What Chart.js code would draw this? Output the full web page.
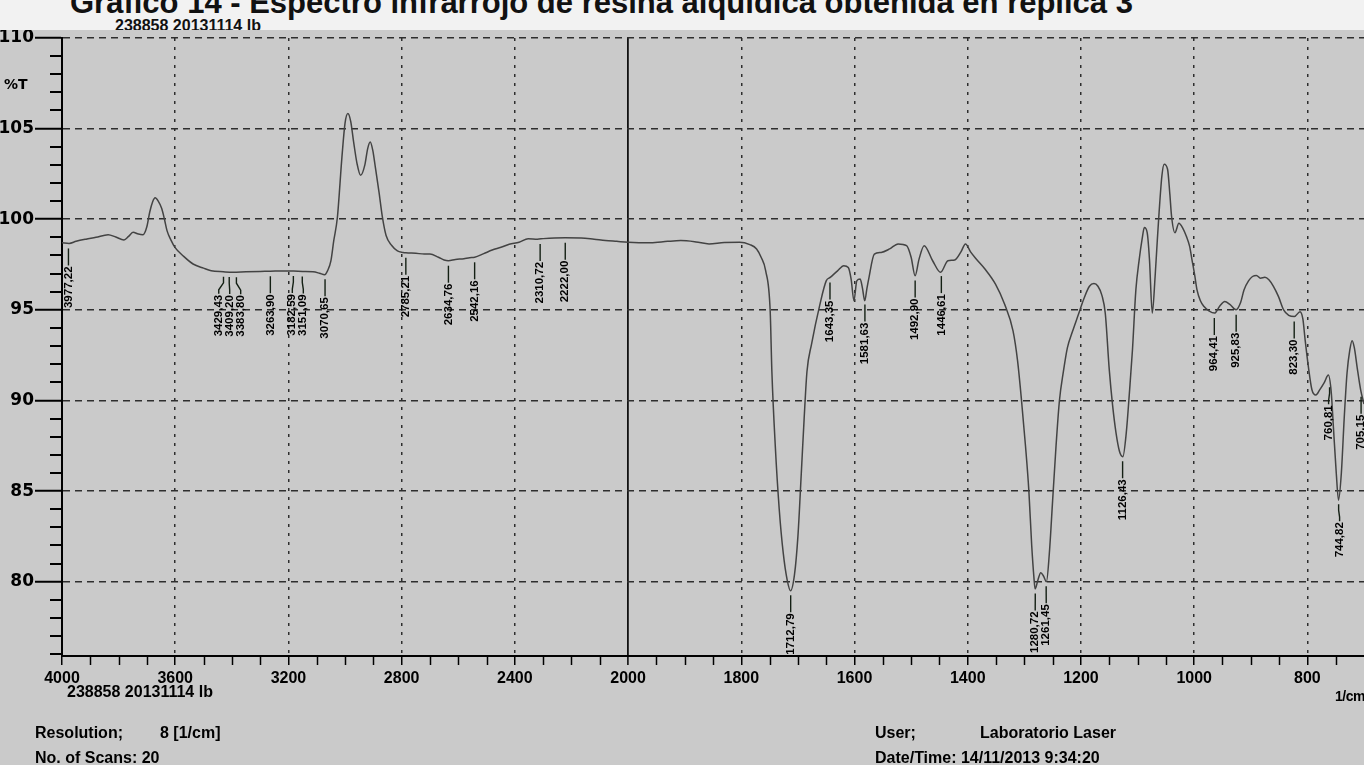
<!DOCTYPE html>
<html>
<head>
<meta charset="utf-8">
<title>Espectro infrarrojo de resina alquídica</title>
<script src="https://cdn.jsdelivr.net/npm/chart.js@4.4.0/dist/chart.umd.min.js"></script>
<style>
  html, body { margin: 0; padding: 0; background: #cacaca; }
  #wrap { position: relative; width: 1364px; height: 765px; overflow: hidden; background: #cacaca; }
  #spectrum { position: absolute; left: 0; top: 0; }
  #band { position: absolute; left: 0; top: 0; width: 1364px; height: 30px; background: #f2f2f2; overflow: hidden; z-index: 2; }
  #title { position: absolute; left: 70px; top: -15px; font: bold 31px "Liberation Sans", Arial, sans-serif; color: #111; white-space: nowrap; }
  #sampleTop { position: absolute; left: 115px; top: 17px; font: bold 16px "Liberation Sans", sans-serif; color: #111; white-space: nowrap; }
  .t { position: absolute; font: bold 16px "Liberation Sans", sans-serif; color: #000; white-space: nowrap; z-index: 3; }
  .w { font-family: "DejaVu Sans", sans-serif; font-size: 14px; }
  .u { font-size: 14px; letter-spacing: -0.5px; }
</style>
</head>
<body>
<div id="wrap">
  <canvas id="spectrum" width="1364" height="765"></canvas>
  <div id="band">
    <div id="title">Gráfico 14 - Espectro infrarrojo de resina alquídica obtenida en réplica 3</div>
    <div id="sampleTop">238858 20131114 lb</div>
  </div>
  <div class="t w" style="left:4px;top:76px;">%T</div>
  <div class="t" style="left:67px;top:683px;">238858 20131114 lb</div>
  <div class="t u" style="left:1335px;top:688px;">1/cm</div>
  <div class="t" style="left:35px;top:724px;">Resolution;</div>
  <div class="t" style="left:160px;top:724px;">8 [1/cm]</div>
  <div class="t" style="left:35px;top:749px;">No. of Scans: 20</div>
  <div class="t" style="left:875px;top:724px;">User;</div>
  <div class="t" style="left:980px;top:724px;">Laboratorio Laser</div>
  <div class="t" style="left:875px;top:749px;">Date/Time: 14/11/2013 9:34:20</div>
</div>
<script>
// Wavenumber (1/cm) and transmittance (%T) of the recorded spectrum
const wavenumbers = [
  4000, 3975, 3950, 3915, 3880, 3837, 3810, 3781, 3765, 3749, 3730, 3714, 3700, 3690, 3680, 3671, 3660, 3648, 3638, 3629,
  3615, 3601, 3570, 3537, 3500, 3473, 3430, 3396, 3350, 3300, 3264, 3220, 3182, 3150, 3113, 3090, 3072, 3062, 3050, 3040,
  3027, 3011, 3000, 2990, 2980, 2970, 2958, 2945, 2930, 2920, 2911, 2902, 2893, 2880, 2868, 2855, 2835, 2815, 2795, 2785,
  2750, 2720, 2700, 2670, 2650, 2635, 2610, 2580, 2560, 2542, 2510, 2480, 2449, 2420, 2385, 2353, 2320, 2300, 2260, 2222,
  2166, 2120, 2080, 2040, 2000, 1960, 1930, 1907, 1880, 1857, 1830, 1803, 1785, 1773, 1765, 1757, 1749, 1746, 1740, 1733,
  1726, 1719, 1713, 1706, 1700, 1694, 1689, 1684, 1676, 1661, 1650, 1643, 1630, 1619, 1611, 1606, 1601, 1596, 1590, 1586,
  1582, 1578, 1575, 1565, 1553, 1538, 1523, 1508, 1500, 1493, 1486, 1477, 1462, 1448, 1435, 1423, 1412, 1404, 1395, 1385,
  1370, 1351, 1335, 1320, 1312, 1305, 1298, 1292, 1287, 1283, 1281, 1276, 1271, 1266, 1261, 1256, 1250, 1244, 1238, 1231,
  1224, 1215, 1205, 1195, 1185, 1177, 1170, 1163, 1157, 1150, 1144, 1138, 1132, 1126, 1120, 1114, 1109, 1103, 1097, 1092,
  1088, 1083, 1079, 1074, 1069, 1065, 1062, 1057, 1053, 1047, 1043, 1040, 1034, 1027, 1020, 1014, 1008, 1004, 999, 995,
  989, 983, 974, 964, 955, 946, 937, 926, 918, 912, 904, 897, 890, 883, 875, 868, 860, 851, 842, 833,
  823, 813, 808, 804, 798, 792, 785, 778, 770, 763, 758, 754, 749, 745, 740, 735, 730, 725, 721, 717,
  712, 706, 700
];
const transmittance = [
  98.70, 98.66, 98.78, 98.90, 99.00, 99.15, 99.02, 98.86, 99.05, 99.28, 99.18, 99.15, 99.60, 100.40, 100.95, 101.18, 101.00, 100.60, 100.00, 99.37,
  98.85, 98.45, 97.95, 97.53, 97.30, 97.16, 97.10, 97.07, 97.10, 97.12, 97.13, 97.15, 97.14, 97.12, 97.10, 97.02, 96.94, 97.15, 97.70, 98.80,
  100.11, 103.43, 105.30, 105.83, 105.40, 104.30, 103.10, 102.42, 103.00, 103.90, 104.26, 103.80, 102.88, 101.50, 100.11, 99.10, 98.55, 98.25, 98.17, 98.15,
  98.12, 98.08, 98.08, 97.90, 97.75, 97.71, 97.78, 97.82, 97.88, 97.90, 98.10, 98.30, 98.45, 98.62, 98.73, 98.92, 98.90, 98.93, 98.97, 98.98,
  98.97, 98.90, 98.83, 98.78, 98.73, 98.70, 98.78, 98.82, 98.75, 98.64, 98.72, 98.73, 98.60, 98.36, 97.90, 97.16, 94.95, 91.60, 87.50, 84.00,
  81.60, 80.10, 79.50, 80.40, 82.50, 86.00, 89.00, 91.60, 93.10, 95.32, 96.60, 96.79, 97.15, 97.44, 97.34, 96.70, 95.50, 96.60, 96.70, 96.20,
  95.50, 96.20, 96.70, 98.08, 98.17, 98.36, 98.64, 98.54, 97.90, 96.88, 97.80, 98.54, 97.71, 97.07, 97.71, 97.75, 98.20, 98.64, 98.20, 97.81,
  97.27, 96.42, 95.32, 93.84, 92.20, 90.00, 87.50, 85.00, 82.00, 80.20, 79.60, 80.10, 80.50, 80.30, 80.00, 81.50, 84.50, 87.50, 90.00, 91.60,
  92.90, 93.80, 94.70, 95.60, 96.30, 96.45, 96.30, 95.80, 94.80, 91.70, 89.70, 88.20, 87.20, 86.90, 88.20, 90.60, 92.80, 96.10, 97.80, 98.90,
  99.54, 99.26, 97.80, 94.82, 96.84, 98.90, 100.37, 102.40, 103.04, 102.76, 101.40, 100.18, 99.26, 99.78, 99.50, 99.08, 98.50, 97.79, 96.90, 96.10,
  95.50, 95.20, 94.95, 94.82, 95.20, 95.46, 95.30, 95.00, 95.40, 96.10, 96.60, 96.84, 96.90, 96.75, 96.80, 96.66, 96.30, 95.73, 95.00, 94.70,
  94.63, 94.90, 94.50, 93.34, 91.80, 90.59, 90.30, 90.60, 91.00, 91.40, 90.50, 88.50, 86.00, 84.50, 86.00, 89.00, 91.50, 92.80, 93.30, 92.90,
  91.80, 90.60, 89.80
];

// Band positions picked by the peak table (1/cm)
const peakWavenumbers = [
  3977.22, 3429.43, 3409.20, 3383.80, 3263.90, 3182.59, 3151.09, 3070.65, 2785.21, 2634.76, 2542.16, 2310.72, 2222.00,
  1712.79, 1643.35, 1581.63, 1492.90, 1446.61, 1280.72, 1261.45, 1126.43, 964.41, 925.83, 823.30, 760.81, 744.82, 705.15
];

// Axis ticks
const xTickWavenumbers = [4000, 3600, 3200, 2800, 2400, 2000, 1800, 1600, 1400, 1200, 1000, 800];
const yTickValues = [80, 85, 90, 95, 100, 105, 110];
const xRange = [4000, 700];
const yRange = [75.9, 110];

// The recorder uses a double scale below 2000 1/cm: the axis coordinate
// advances 1 unit per 2 1/cm above 2000 and 1 unit per 1/cm below it.
function toAxis(w) { return w >= 2000 ? (4000 - w) / 2 : 1000 + (2000 - w); }
function fromAxis(p) { return p <= 1000 ? 4000 - 2 * p : 2000 - (p - 1000); }

function transmittanceAt(w) {
  for (let i = 0; i < wavenumbers.length - 1; i++) {
    const a = wavenumbers[i], b = wavenumbers[i + 1];
    if (w <= a && w >= b) {
      const f = (a - w) / (a - b);
      return transmittance[i] + f * (transmittance[i + 1] - transmittance[i]);
    }
  }
  return transmittance[transmittance.length - 1];
}

const INK = '#000';
const GRID = '#2e2e2e';
const isSplit = (c) => c.tick && c.tick.value === 1000;

const decorPlugin = {
  id: 'recorderDecor',
  afterDraw(chart) {
    const { ctx, chartArea } = chart;
    const xs = chart.scales.x, ys = chart.scales.y;
    ctx.save();
    ctx.strokeStyle = INK;
    // minor ticks on the wavenumber axis
    ctx.lineWidth = 1.5;
    const pMax = toAxis(xRange[1]);
    for (let p = 50; p < pMax; p += 50) {
      if (p % 200 === 0) continue;
      const x = Math.round(xs.getPixelForValue(p)) + 0.5;
      ctx.beginPath();
      ctx.moveTo(x, chartArea.bottom);
      ctx.lineTo(x, chartArea.bottom + 9);
      ctx.stroke();
    }
    // minor ticks on the %T axis
    ctx.lineWidth = 2;
    for (let v = Math.ceil(yRange[0]); v < yRange[1]; v++) {
      if (v % 5 === 0) continue;
      const y = Math.round(ys.getPixelForValue(v));
      ctx.beginPath();
      ctx.moveTo(chartArea.left - 12, y);
      ctx.lineTo(chartArea.left, y);
      ctx.stroke();
    }
    // peak table annotations
    const items = peakWavenumbers.map(w => {
      const x = xs.getPixelForValue(toAxis(w));
      const y = ys.getPixelForValue(transmittanceAt(w));
      return { w, x, tx: x, y };
    }).sort((a, b) => a.x - b.x);
    const gap = 11;
    for (let k = 0; k < 4; k++) {
      for (let i = 1; i < items.length; i++) {
        const d = items[i].tx - items[i - 1].tx;
        if (d < gap) {
          const s = (gap - d) / 2;
          items[i - 1].tx -= s;
          items[i].tx += s;
        }
      }
    }
    ctx.font = 'bold 11.5px "Liberation Sans", sans-serif';
    ctx.fillStyle = INK;
    ctx.textAlign = 'right';
    ctx.textBaseline = 'middle';
    items.forEach(it => {
      const top = it.y + 5;
      const bend = it.y + 11;
      const end = it.y + 22;
      ctx.strokeStyle = '#142014';
      ctx.lineWidth = 1.4;
      ctx.beginPath();
      ctx.moveTo(it.x, top);
      ctx.lineTo(it.x, bend);
      ctx.lineTo(it.tx, end - 4);
      ctx.lineTo(it.tx, end);
      ctx.stroke();
      ctx.save();
      ctx.translate(it.tx, end + 1);
      ctx.rotate(-Math.PI / 2);
      ctx.fillText(it.w.toFixed(2).replace('.', ','), 0, 0);
      ctx.restore();
    });
    ctx.restore();
  }
};

const points = wavenumbers.map((w, i) => ({ x: toAxis(w), y: transmittance[i] }));

new Chart(document.getElementById('spectrum'), {
  type: 'line',
  data: {
    datasets: [{
      data: points,
      borderColor: '#434343',
      borderWidth: 1.5,
      pointRadius: 0,
      fill: false,
      cubicInterpolationMode: 'monotone'
    }]
  },
  options: {
    responsive: false,
    animation: false,
    events: [],
    layout: { padding: { top: 38, right: 0, left: 0, bottom: 0 } },
    plugins: { legend: { display: false }, tooltip: { enabled: false }, title: { display: false } },
    scales: {
      x: {
        type: 'linear',
        min: toAxis(xRange[0]),
        max: toAxis(xRange[1]),
        afterBuildTicks(scale) { scale.ticks = xTickWavenumbers.map(w => ({ value: toAxis(w) })); },
        afterFit(scale) { scale.height = 109; },
        ticks: {
          autoSkip: false,
          maxRotation: 0,
          padding: 4,
          color: INK,
          font: { family: '"Liberation Sans", sans-serif', weight: 'bold', size: 16 },
          callback: (v) => String(fromAxis(v))
        },
        grid: {
          color: (c) => (isSplit(c) ? '#111' : GRID),
          lineWidth: (c) => (isSplit(c) ? 1.8 : 1.5),
          tickLength: 9,
          tickColor: INK,
          tickWidth: 1.5,
          tickBorderDash: []
        },
        border: {
          display: true, color: INK, width: 2,
          dash: (c) => (isSplit(c) ? [] : [3, 6])
        }
      },
      y: {
        type: 'linear',
        min: yRange[0],
        max: yRange[1],
        afterBuildTicks(scale) { scale.ticks = yTickValues.map(v => ({ value: v })); },
        afterFit(scale) { scale.width = 62; },
        ticks: {
          padding: 1,
          color: INK,
          font: { family: '"DejaVu Sans", sans-serif', weight: 'bold', size: 17 },
          callback: (v) => String(v)
        },
        grid: {
          color: GRID,
          lineWidth: 1.5,
          tickLength: 27,
          tickColor: INK,
          tickWidth: 2,
          tickBorderDash: []
        },
        border: { display: true, color: INK, width: 2, dash: [7, 5] }
      }
    }
  },
  plugins: [decorPlugin]
});
</script>
</body>
</html>
